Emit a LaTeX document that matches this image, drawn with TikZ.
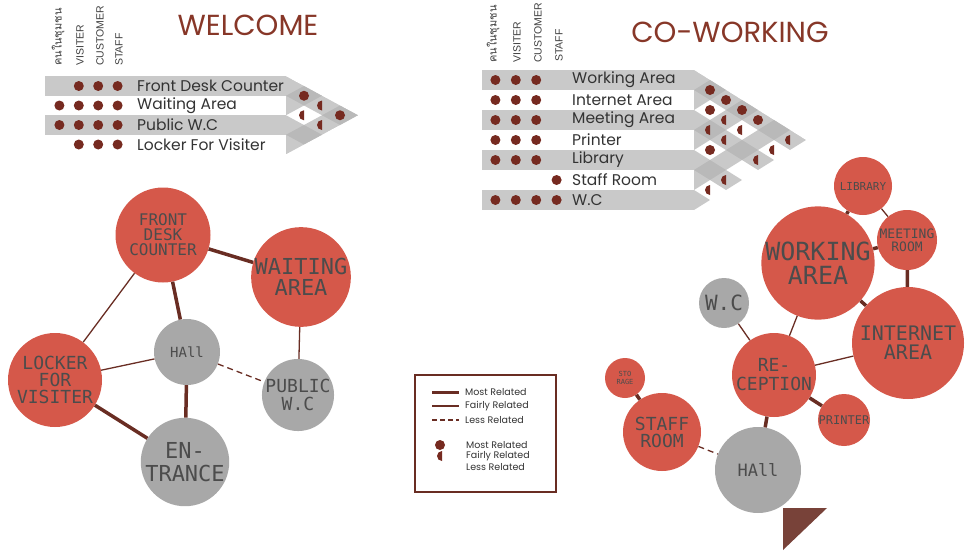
\documentclass[tikz,border=0pt]{standalone}
\usepackage{fontspec}
\setmainfont{Poppins}
\newfontfamily\thaifont[Script=Thai]{Loma}
\newfontfamily\headfont{Liberation Sans}
\newfontfamily\bubfont{DejaVu Sans Mono}
\usetikzlibrary{positioning}
\definecolor{bubred}{RGB}{213,88,74}
\definecolor{bubgray}{RGB}{168,168,168}
\definecolor{linkbrown}{RGB}{105,45,35}
\definecolor{dotbrown}{RGB}{118,42,32}
\definecolor{titlebrown}{RGB}{135,55,40}
% half filled dot (fairly related)
\newcommand{\fairdot}[2]{%
  \begin{scope}
    \clip ({#1-6},{#2-6}) rectangle ({#1},{#2+6});
    \fill[dotbrown] ({#1},{#2}) circle[radius=5pt];
  \end{scope}}
\newcommand{\mostdot}[2]{\fill[dotbrown] ({#1},{#2}) circle[radius=5pt];}

\begin{document}
\begin{tikzpicture}[
    x=1pt, y=-1pt,
    bub/.style={circle, inner sep=0pt, align=center, text=black!70},
    redbub/.style={bub, fill=bubred},
    graybub/.style={bub, fill=bubgray},
    most/.style={linkbrown, line width=3.5pt},
    fair/.style={linkbrown, line width=1.3pt},
    less/.style={linkbrown, line width=1.3pt, dash pattern=on 6pt off 4pt},
    strip/.style={fill=black!30, fill opacity=0.7},
    rowlbl/.style={anchor=west, inner sep=0pt, text=black!80, font=\fontsize{15.5}{16}\selectfont},
    colhead/.style={rotate=90, anchor=west, inner sep=0pt, text=black!75, font=\headfont\fontsize{10.5}{11}\selectfont},
    title/.style={text=titlebrown, font=\fontsize{29}{30}\selectfont},
    legtxt/.style={anchor=west, inner sep=0pt, text=black!80, font=\fontsize{9.5}{10}\selectfont}
]
\useasboundingbox (0,0) rectangle (966,555);

%% ---------- WELCOME ----------
\node[title] (welcome) at (248,25) {WELCOME};
\node[colhead] (wh1) at (58,66) {\thaifont\fontsize{11}{11}\selectfont คนในชุมชน};
\node[colhead] (wh2) at (80,66) {VISITER};
\node[colhead] (wh3) at (100,66) {CUSTOMER};
\node[colhead] (wh4) at (119,66) {STAFF};

% bands and arrow
\foreach \i in {1,3}{
  \fill[strip] (45,{86+19.5*(\i-1)-9.75}) rectangle (286,{86+19.5*(\i-1)+9.75});
}
\begin{scope}
  \clip (286,76.25) -- (358,115.25) -- (286,154.25) -- cycle;
  \foreach \i in {1,3}{
    \fill[strip] (286,{86+19.5*(\i-1)-9.75}) -- ++(72,39) -- ++(0,19.5) -- (286,{86+19.5*(\i-1)+9.75}) -- cycle;
  }
  \foreach \i in {2,4}{
    \fill[strip] (286,{86+19.5*(\i-1)-9.75}) -- ++(72,-39) -- ++(0,19.5) -- (286,{86+19.5*(\i-1)+9.75}) -- cycle;
  }
\end{scope}

\node[rowlbl] (wr1) at (137,86) {Front Desk Counter};
\node[rowlbl] (wr2) at (137,105.5) {Waiting Area};
\node[rowlbl] (wr3) at (137,125) {Public W.C};
\node[rowlbl] (wr4) at (137,144.5) {Locker For Visiter};

% user dots
\foreach \r/\c in {1/2,1/3,1/4, 2/1,2/2,2/3,2/4, 3/1,3/2,3/3,3/4, 4/2,4/3,4/4}{
  \mostdot{40+19.4*\c}{86+19.5*(\r-1)}
}
% relation dots
\foreach \i/\j in {1/2,1/4}{
  \mostdot{286+(\j-\i)*18}{86+9.75*(\i+\j-2)}
}
\foreach \i/\j in {1/3,2/3,2/4}{
  \fairdot{286+(\j-\i)*18}{86+9.75*(\i+\j-2)}
}

%% ---------- CO-WORKING ----------
\node[title] (cowork) at (730,32) {CO-WORKING};
\node[colhead] (ch1) at (493,63) {\thaifont\fontsize{11}{11}\selectfont คนในชุมชน};
\node[colhead] (ch2) at (517,63) {VISITER};
\node[colhead] (ch3) at (538,63) {CUSTOMER};
\node[colhead] (ch4) at (559,62) {STAFF};

\foreach \i in {1,3,5,7}{
  \fill[strip] (482,{80+20*(\i-1)-10}) rectangle (694,{80+20*(\i-1)+10});
}
\begin{scope}
  \clip (694,70) -- (806,140) -- (694,210) -- cycle;
  \foreach \i in {1,3,5,7}{
    \fill[strip] (694,{80+20*(\i-1)-10}) -- ++(112,70) -- ++(0,20) -- (694,{80+20*(\i-1)+10}) -- cycle;
  }
  \foreach \i in {2,4,6}{
    \fill[strip] (694,{80+20*(\i-1)-10}) -- ++(112,-70) -- ++(0,20) -- (694,{80+20*(\i-1)+10}) -- cycle;
  }
\end{scope}

\node[rowlbl] (cr1) at (572,80) {Working Area};
\node[rowlbl] (cr2) at (572,100) {Internet Area};
\node[rowlbl] (cr3) at (572,120) {Meeting Area};
\node[rowlbl] (cr4) at (572,140) {Printer};
\node[rowlbl] (cr5) at (572,160) {Library};
\node[rowlbl] (cr6) at (572,180) {Staff Room};
\node[rowlbl] (cr7) at (572,200) {W.C};

\foreach \r/\c in {1/1,1/2,1/3, 2/1,2/2,2/3, 3/1,3/2,3/3, 4/1,4/2,4/3, 5/1,5/2,5/3, 6/4, 7/1,7/2,7/3,7/4}{
  \mostdot{475+20.4*\c}{80+20*(\r-1)}
}
\foreach \i/\j in {1/2,1/3,2/3,1/4,1/5,4/5}{
  \mostdot{694+(\j-\i)*16}{80+10*(\i+\j-2)}
}
\foreach \i/\j in {2/4,3/4,2/5,3/5,1/7,2/7,3/7,5/7,6/7}{
  \fairdot{694+(\j-\i)*16}{80+10*(\i+\j-2)}
}

%% ---------- welcome bubbles ----------
\node[redbub, minimum size=95pt, font=\bubfont\fontsize{16}{15}\selectfont] (fdc) at (163,235) {FRONT\\DESK\\COUNTER};
\node[redbub, minimum size=90pt, font=\bubfont\fontsize{22}{21}\selectfont] (wait) at (301,277) {WAITING\\AREA};
\node[graybub, minimum size=66pt, font=\bubfont\fontsize{14}{14}\selectfont] (hall) at (187,352) {HAll};
\node[redbub, minimum size=94pt, font=\bubfont\fontsize{18}{17}\selectfont] (locker) at (55,380) {LOCKER\\FOR\\VISITER};
\node[graybub, minimum size=70pt, font=\bubfont\fontsize{18}{18}\selectfont] (pwc) at (298,395) {PUBLIC\\W.C};
\node[graybub, minimum size=86pt, font=\bubfont\fontsize{22}{23}\selectfont] (entr) at (185,462) {EN-\\TRANCE};

\draw[most] (fdc) -- (wait);
\draw[most] (fdc) -- (hall);
\draw[fair] (fdc) -- (locker);
\draw[fair] (locker) -- (hall);
\draw[most] (locker) -- (entr);
\draw[most] (hall) -- (entr);
\draw[less] (hall) -- (pwc);
\draw[fair] (wait) -- (pwc);

%% ---------- co-working bubbles ----------
\node[redbub, minimum size=58pt, font=\bubfont\fontsize{11}{12}\selectfont] (lib) at (863,186) {LIBRARY};
\node[redbub, minimum size=60pt, font=\bubfont\fontsize{13}{13}\selectfont] (meet) at (907,240) {MEETING\\ROOM};
\node[redbub, minimum size=106pt, font=\bubfont\fontsize{25}{24}\selectfont] (work) at (818,263) {WORKING\\AREA};
\node[redbub, minimum size=112pt, font=\bubfont\fontsize{20}{19}\selectfont] (inet) at (908,343) {INTERNET\\AREA};
\node[graybub, minimum size=50pt, font=\bubfont\fontsize{21}{21}\selectfont] (wc) at (724,303) {W.C};
\node[redbub, minimum size=84pt, font=\bubfont\fontsize{18}{19}\selectfont] (recep) at (774,375) {RE-\\CEPTION};
\node[redbub, minimum size=52pt, font=\bubfont\fontsize{12}{12}\selectfont] (print) at (844,420) {PRINTER};
\node[redbub, minimum size=40pt, font=\bubfont\fontsize{7}{8}\selectfont] (store) at (625,378) {STO\\RAGE};
\node[redbub, minimum size=78pt, font=\bubfont\fontsize{18}{17}\selectfont] (staff) at (662,432) {STAFF\\ROOM};
\node[graybub, minimum size=86pt, font=\bubfont\fontsize{17}{17}\selectfont] (hall2) at (758,470) {HAll};

\draw[most] (lib) -- (work);
\draw[fair] (lib) -- (meet);
\draw[most] (work) -- (meet);
\draw[most] (meet) -- (inet);
\draw[most] (work) -- (inet);
\draw[fair] (work) -- (recep);
\draw[fair] (inet) -- (recep);
\draw[fair] (wc) -- (recep);
\draw[most] (recep) -- (print);
\draw[most] (recep) -- (hall2);
\draw[most] (store) -- (staff);
\draw[less] (staff) -- (hall2);

% entrance marker
\fill[linkbrown!90] (783,508) -- (827,508) -- (783,550) -- cycle;

%% ---------- legend ----------
\draw[linkbrown, line width=1.5pt] (415,375) rectangle (556,492);
\coordinate (lm1) at (432,392); \coordinate (lm2) at (459,392);
\coordinate (lf1) at (432,406); \coordinate (lf2) at (459,406);
\coordinate (ll1) at (432,420); \coordinate (ll2) at (459,420);
\draw[most, line width=3pt] (lm1) -- (lm2);
\draw[fair] (lf1) -- (lf2);
\draw[less, dash pattern=on 5pt off 3pt] (ll1) -- (ll2);
\node[legtxt, right=6pt of lm2] (lgm) {Most Related};
\node[legtxt, right=6pt of lf2] (lgf) {Fairly Related};
\node[legtxt, right=6pt of ll2] (lgl) {Less Related};
\mostdot{440}{445}
\fairdot{442}{456}
\node[legtxt] (ldm) at (466,445) {Most Related};
\node[legtxt] (ldf) at (466,456) {Fairly Related};
\node[legtxt] (ldl) at (466,467) {Less Related};
\end{tikzpicture}
\end{document}
